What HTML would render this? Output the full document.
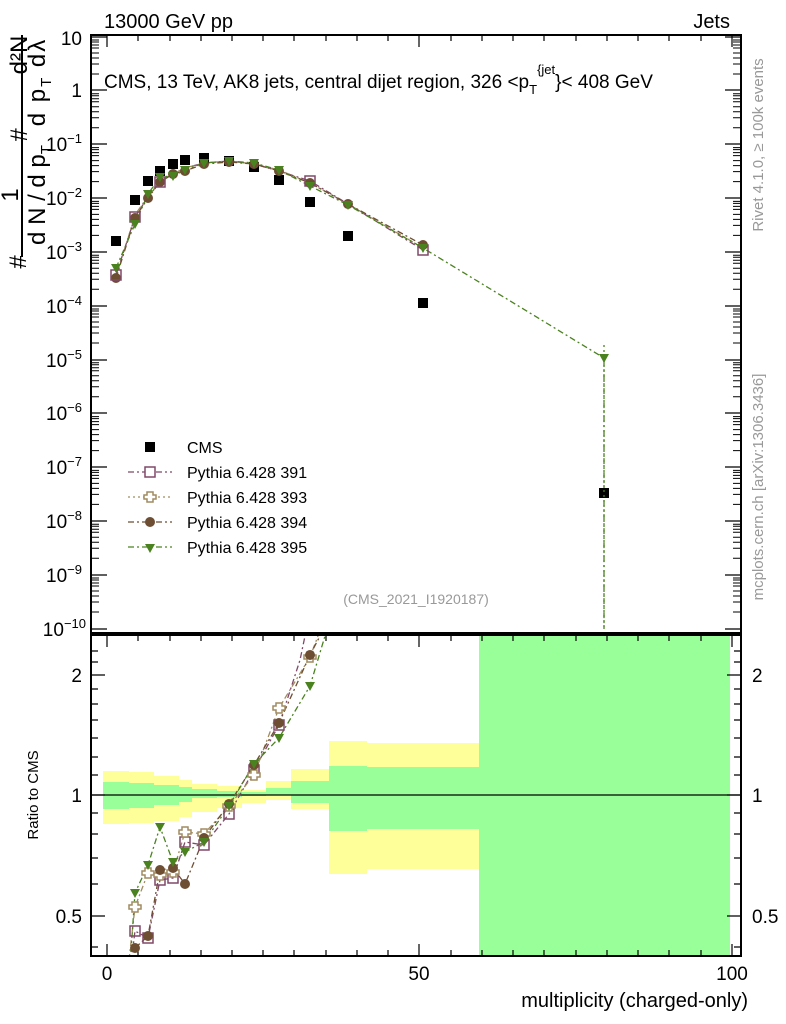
<!DOCTYPE html>
<html><head><meta charset="utf-8"><style>
body{margin:0;background:#fff}
svg{display:block;font-family:"Liberation Sans",sans-serif}
</style></head><body>
<svg width="786" height="1024" viewBox="0 0 786 1024" xmlns="http://www.w3.org/2000/svg">
<g>
<rect x="103" y="771" width="26" height="53" fill="#ffff99"/><rect x="103" y="782" width="26" height="27" fill="#99ff99"/>
<rect x="129" y="772" width="25" height="51" fill="#ffff99"/><rect x="129" y="783" width="25" height="25" fill="#99ff99"/>
<rect x="154" y="776" width="25" height="45" fill="#ffff99"/><rect x="154" y="785" width="25" height="20" fill="#99ff99"/>
<rect x="179" y="780" width="13" height="37" fill="#ffff99"/><rect x="179" y="787" width="13" height="15" fill="#99ff99"/>
<rect x="192" y="784" width="25" height="28" fill="#ffff99"/><rect x="192" y="789" width="25" height="9" fill="#99ff99"/>
<rect x="217" y="786" width="25" height="22" fill="#ffff99"/><rect x="217" y="791" width="25" height="6" fill="#99ff99"/>
<rect x="242" y="790" width="24" height="13" fill="#ffff99"/><rect x="242" y="792" width="24" height="4" fill="#99ff99"/>
<rect x="266" y="781" width="25" height="19" fill="#ffff99"/><rect x="266" y="788" width="25" height="7" fill="#99ff99"/>
<rect x="291" y="769" width="38" height="40" fill="#ffff99"/><rect x="291" y="781" width="38" height="22" fill="#99ff99"/>
<rect x="329" y="741" width="38" height="133" fill="#ffff99"/><rect x="329" y="766" width="38" height="65" fill="#99ff99"/>
<rect x="367" y="743" width="112" height="126" fill="#ffff99"/><rect x="367" y="767" width="112" height="62" fill="#99ff99"/>
<rect x="479" y="635" width="251" height="321" fill="#99ff99"/>
</g>
<line x1="91" y1="795" x2="741" y2="795" stroke="#000" stroke-width="1.2"/>
<rect x="91" y="35" width="650" height="598" fill="none" stroke="#000" stroke-width="2"/>
<rect x="91" y="635" width="650" height="321" fill="none" stroke="#000" stroke-width="2"/>
<g stroke="#000" stroke-width="1.2">
<path d="M107 35v12M419 35v12M732 35v12M107 956v-12M419 956v-12M732 956v-12M107 635v12M419 635v12M732 635v12"/>
<path d="M138 35v6M170 35v6M201 35v6M232 35v6M263 35v6M294 35v6M326 35v6M357 35v6M388 35v6M451 35v6M482 35v6M513 35v6M544 35v6M576 35v6M607 35v6M638 35v6M669 35v6M701 35v6"/>
<path d="M138 956v-6M170 956v-6M201 956v-6M232 956v-6M263 956v-6M294 956v-6M326 956v-6M357 956v-6M388 956v-6M451 956v-6M482 956v-6M513 956v-6M544 956v-6M576 956v-6M607 956v-6M638 956v-6M669 956v-6M701 956v-6"/>
<path d="M138 635v6M170 635v6M201 635v6M232 635v6M263 635v6M294 635v6M326 635v6M357 635v6M388 635v6M451 635v6M482 635v6M513 635v6M544 635v6M576 635v6M607 635v6M638 635v6M669 635v6M701 635v6"/>
<path d="M91 37h16M91 90h16M91 144h16M91 198h16M91 252h16M91 306h16M91 360h16M91 413h16M91 467h16M91 521h16M91 575h16M91 629h16"/>
<path d="M741 37h-16M741 90h-16M741 144h-16M741 198h-16M741 252h-16M741 306h-16M741 360h-16M741 413h-16M741 467h-16M741 521h-16M741 575h-16M741 629h-16"/>
<path d="M91 675h14M91 795h14M91 916h14M741 675h-14M741 795h-14M741 916h-14"/>
<path d="M91 651h7M91 662h7M91 689h7M91 704h7M91 720h7M91 738h7M91 757h7M91 775h7M91 813h7M91 834h7M91 858h7M91 884h7M91 947h7"/>
<path d="M741 651h-7M741 662h-7M741 689h-7M741 704h-7M741 720h-7M741 738h-7M741 757h-7M741 775h-7M741 813h-7M741 834h-7M741 858h-7M741 884h-7M741 947h-7"/>
</g>
<g stroke="#000" stroke-width="1">
<path id="mt" d="M91 74h8M91 64h8M91 58h8M91 53h8M91 48h8M91 45h8M91 42h8M91 40h8M741 74h-8M741 64h-8M741 58h-8M741 53h-8M741 48h-8M741 45h-8M741 42h-8M741 40h-8"/>
<use href="#mt" y="53.8"/><use href="#mt" y="107.6"/><use href="#mt" y="161.4"/><use href="#mt" y="215.2"/><use href="#mt" y="269"/><use href="#mt" y="322.8"/><use href="#mt" y="376.6"/><use href="#mt" y="430.4"/><use href="#mt" y="484.2"/><use href="#mt" y="538"/>
</g>
<g font-size="19" fill="#000" text-anchor="end">
<text x="82" y="45">10</text><text x="82" y="97">1</text>
<text x="82" y="151">10<tspan dy="-8" font-size="13">−1</tspan></text>
<text x="82" y="205">10<tspan dy="-8" font-size="13">−2</tspan></text>
<text x="82" y="259">10<tspan dy="-8" font-size="13">−3</tspan></text>
<text x="82" y="313">10<tspan dy="-8" font-size="13">−4</tspan></text>
<text x="82" y="367">10<tspan dy="-8" font-size="13">−5</tspan></text>
<text x="82" y="420">10<tspan dy="-8" font-size="13">−6</tspan></text>
<text x="82" y="474">10<tspan dy="-8" font-size="13">−7</tspan></text>
<text x="82" y="528">10<tspan dy="-8" font-size="13">−8</tspan></text>
<text x="82" y="582">10<tspan dy="-8" font-size="13">−9</tspan></text>
<text x="86" y="636">10<tspan dy="-8" font-size="13">−10</tspan></text>
<text x="82" y="682">2</text><text x="82" y="802">1</text><text x="82" y="923">0.5</text>
</g>
<g font-size="19" fill="#000">
<text x="752" y="682">2</text><text x="752" y="802">1</text><text x="752" y="923">0.5</text>
</g>
<g font-size="19" fill="#000" text-anchor="middle">
<text x="107" y="980">0</text><text x="419" y="980">50</text><text x="732" y="980">100</text>
</g>
<text x="748" y="1007" font-size="20" text-anchor="end">multiplicity (charged-only)</text>
<text x="104" y="28" font-size="20">13000 GeV pp</text>
<text x="730" y="28" font-size="20" text-anchor="end">Jets</text>
<text x="104" y="88" font-size="19">CMS, 13 TeV, AK8 jets, central dijet region, 326 &lt;p<tspan dy="6" font-size="13">T</tspan><tspan dy="-20" font-size="13">{jet</tspan><tspan dy="14">}&lt; 408 GeV</tspan></text>
<text x="416" y="604" font-size="14" fill="#999" text-anchor="middle">(CMS_2021_I1920187)</text>
<text transform="translate(763,145) rotate(-90)" font-size="15" fill="#999" text-anchor="middle">Rivet 4.1.0, ≥ 100k events</text>
<text transform="translate(763,487) rotate(-90)" font-size="15" fill="#999" text-anchor="middle">mcplots.cern.ch [arXiv:1306.3436]</text>
<text transform="translate(38,795) rotate(-90)" font-size="15" text-anchor="middle">Ratio to CMS</text>
<g font-size="24">
<line x1="22" y1="35" x2="22" y2="257" stroke="#000" stroke-width="2"/>
<text transform="translate(27,55) rotate(-90)" text-anchor="middle">d²N</text>
<text transform="translate(27,135) rotate(-90)" text-anchor="middle">#</text>
<text transform="translate(18,195) rotate(-90)" text-anchor="middle">1</text>
<text transform="translate(26,262) rotate(-90)" text-anchor="middle">#</text>
<text transform="translate(45,195) rotate(-90)" text-anchor="middle">d N / d p<tspan font-size="15" dy="6">T</tspan></text>
<text transform="translate(45,82) rotate(-90)" text-anchor="middle" letter-spacing="2">d p<tspan font-size="15" dy="6">T</tspan><tspan dy="-6">   dλ</tspan></text>
</g>
<g fill="none" stroke-width="1.3" stroke-dasharray="6,3,2,3">
<polyline stroke="#804868" points="116,275 135,217 148,197 160,182 173,174 185,168 204,163 229,161 254,164 279,171 310,181 348,204 423,250"/>
<polyline stroke="#a08c60" points="116,278 135,215 148,196 160,181 173,174 185,168 204,163 229,161 254,164 279,170 310,183 348,204 423,248"/>
<polyline stroke="#6e4e32" points="116,278 135,218 148,198 160,182 173,174 185,171 204,164 229,162 254,164 279,171 310,183 348,204 423,245"/>
<polyline stroke="#4b8220" points="116,268 135,224 148,194 160,177 173,176 185,170 204,163 229,161 254,163 279,170 310,186 348,205 423,248 604,358 604,629"/>
</g>
<g fill="#000">
<rect x="111" y="236" width="10" height="10"/><rect x="130" y="195" width="10" height="10"/><rect x="143" y="176" width="10" height="10"/><rect x="155" y="166" width="10" height="10"/><rect x="168" y="159" width="10" height="10"/><rect x="180" y="155" width="10" height="10"/><rect x="199" y="153" width="10" height="10"/><rect x="224" y="156" width="10" height="10"/><rect x="249" y="162" width="10" height="10"/><rect x="274" y="175" width="10" height="10"/><rect x="305" y="197" width="10" height="10"/><rect x="343" y="231" width="10" height="10"/><rect x="418" y="298" width="10" height="10"/><rect x="599" y="488" width="10" height="10"/>
</g>
<g fill="#6e4e32">
<circle cx="116" cy="278" r="5"/><circle cx="135" cy="218" r="5"/><circle cx="148" cy="198" r="5"/><circle cx="160" cy="182" r="5"/><circle cx="173" cy="174" r="5"/><circle cx="185" cy="171" r="5"/><circle cx="204" cy="164" r="5"/><circle cx="229" cy="162" r="5"/><circle cx="254" cy="164" r="5"/><circle cx="279" cy="171" r="5"/><circle cx="310" cy="183" r="5"/><circle cx="348" cy="204" r="5"/><circle cx="423" cy="245" r="5"/>
</g>
<g fill="none" stroke="#804868" stroke-width="1.5">
<rect x="111" y="270" width="10" height="10"/><rect x="130" y="212" width="10" height="10"/><rect x="155" y="177" width="10" height="10"/><rect x="305" y="176" width="10" height="10"/><rect x="418" y="245" width="10" height="10"/>
</g>
<g fill="#4b8220">
<path d="M-5,-4 L5,-4 L0,5Z" transform="translate(116,268)"/>
<path d="M-5,-4 L5,-4 L0,5Z" transform="translate(135,224)"/><path d="M-5,-4 L5,-4 L0,5Z" transform="translate(148,194)"/><path d="M-5,-4 L5,-4 L0,5Z" transform="translate(160,177)"/><path d="M-5,-4 L5,-4 L0,5Z" transform="translate(173,176)"/><path d="M-5,-4 L5,-4 L0,5Z" transform="translate(185,170)"/><path d="M-5,-4 L5,-4 L0,5Z" transform="translate(204,163)"/><path d="M-5,-4 L5,-4 L0,5Z" transform="translate(229,161)"/><path d="M-5,-4 L5,-4 L0,5Z" transform="translate(254,163)"/><path d="M-5,-4 L5,-4 L0,5Z" transform="translate(279,170)"/><path d="M-5,-4 L5,-4 L0,5Z" transform="translate(310,186)"/><path d="M-5,-4 L5,-4 L0,5Z" transform="translate(348,205)"/><path d="M-5,-4 L5,-4 L0,5Z" transform="translate(423,248)"/><path d="M-5,-4 L5,-4 L0,5Z" transform="translate(604,358)"/>
</g>
<line x1="604" y1="345" x2="604" y2="629" stroke="#4b8220" stroke-dasharray="2,3" stroke-width="1.3"/>
<g font-size="16">
<rect x="145" y="442" width="10" height="10"/><text x="187" y="453">CMS</text>
<line x1="128" y1="472" x2="172" y2="472" stroke="#804868" stroke-dasharray="6,3,2,3" stroke-width="1.3"/><rect x="145" y="467" width="10" height="10" fill="#fff" stroke="#804868" stroke-width="1.5"/><text x="187" y="478">Pythia 6.428 391</text>
<line x1="128" y1="497" x2="172" y2="497" stroke="#a08c60" stroke-dasharray="2,3" stroke-width="1.3"/><path d="M147,492h6v3h3v4h-3v3h-6v-3h-3v-4h3z" fill="#fff" stroke="#a08c60" stroke-width="1.5"/><text x="187" y="503">Pythia 6.428 393</text>
<line x1="128" y1="522" x2="172" y2="522" stroke="#6e4e32" stroke-dasharray="6,3,2,3" stroke-width="1.3"/><circle cx="150" cy="522" r="5" fill="#6e4e32"/><text x="187" y="528">Pythia 6.428 394</text>
<line x1="128" y1="547" x2="172" y2="547" stroke="#4b8220" stroke-dasharray="6,3,2,3" stroke-width="1.3"/><path d="M-5,-4 L5,-4 L0,5Z" transform="translate(150,548)" fill="#4b8220"/><text x="187" y="553">Pythia 6.428 395</text>
</g>
<clipPath id="rc"><rect x="92" y="636" width="648" height="319"/></clipPath>
<g clip-path="url(#rc)" fill="none" stroke-width="1.3" stroke-dasharray="6,3,2,3">
<polyline stroke="#804868" points="129,980 135,931 148,938 160,880 173,878 185,842 204,845 229,814 254,770 279,725 300,660 305,636"/>
<polyline stroke="#a08c60" points="129,960 135,907 148,873 160,875 173,872 185,832 204,834 229,806 254,775 279,708 310,657 318,636"/>
<polyline stroke="#6e4e32" points="129,980 135,948 148,936 160,870 173,868 185,884 204,838 229,804 254,765 279,723 310,655 320,636"/>
<polyline stroke="#4b8220" points="129,980 135,893 148,865 160,827 173,862 185,852 204,842 229,806 254,764 279,738 310,686 325,636"/>
</g>
<g clip-path="url(#rc)">
<g fill="none" stroke="#804868" stroke-width="1.5">
<rect x="130" y="926" width="10" height="10"/><rect x="143" y="933" width="10" height="10"/><rect x="155" y="875" width="10" height="10"/><rect x="168" y="873" width="10" height="10"/><rect x="180" y="837" width="10" height="10"/><rect x="199" y="840" width="10" height="10"/><rect x="224" y="809" width="10" height="10"/><rect x="249" y="765" width="10" height="10"/><rect x="274" y="720" width="10" height="10"/>
</g>
<g fill="#fff" stroke="#a08c60" stroke-width="1.5">
<path d="M132,902h6v3h3v4h-3v3h-6v-3h-3v-4h3z"/><path d="M145,868h6v3h3v4h-3v3h-6v-3h-3v-4h3z"/><path d="M157,870h6v3h3v4h-3v3h-6v-3h-3v-4h3z"/><path d="M170,867h6v3h3v4h-3v3h-6v-3h-3v-4h3z"/><path d="M182,827h6v3h3v4h-3v3h-6v-3h-3v-4h3z"/><path d="M201,829h6v3h3v4h-3v3h-6v-3h-3v-4h3z"/><path d="M226,801h6v3h3v4h-3v3h-6v-3h-3v-4h3z"/><path d="M251,770h6v3h3v4h-3v3h-6v-3h-3v-4h3z"/><path d="M276,703h6v3h3v4h-3v3h-6v-3h-3v-4h3z"/><path d="M307,652h6v3h3v4h-3v3h-6v-3h-3v-4h3z"/>
</g>
<g fill="#6e4e32">
<circle cx="135" cy="948" r="5"/><circle cx="148" cy="936" r="5"/><circle cx="160" cy="870" r="5"/><circle cx="173" cy="868" r="5"/><circle cx="185" cy="884" r="5"/><circle cx="204" cy="838" r="5"/><circle cx="229" cy="804" r="5"/><circle cx="254" cy="765" r="5"/><circle cx="279" cy="723" r="5"/><circle cx="310" cy="655" r="5"/>
</g>
<g fill="#4b8220">
<path d="M-5,-4 L5,-4 L0,5Z" transform="translate(135,893)"/><path d="M-5,-4 L5,-4 L0,5Z" transform="translate(148,865)"/><path d="M-5,-4 L5,-4 L0,5Z" transform="translate(160,827)"/><path d="M-5,-4 L5,-4 L0,5Z" transform="translate(173,862)"/><path d="M-5,-4 L5,-4 L0,5Z" transform="translate(185,852)"/><path d="M-5,-4 L5,-4 L0,5Z" transform="translate(204,842)"/><path d="M-5,-4 L5,-4 L0,5Z" transform="translate(229,806)"/><path d="M-5,-4 L5,-4 L0,5Z" transform="translate(254,764)"/><path d="M-5,-4 L5,-4 L0,5Z" transform="translate(279,738)"/><path d="M-5,-4 L5,-4 L0,5Z" transform="translate(310,686)"/>
</g>
</g>
</svg>
</body></html>
